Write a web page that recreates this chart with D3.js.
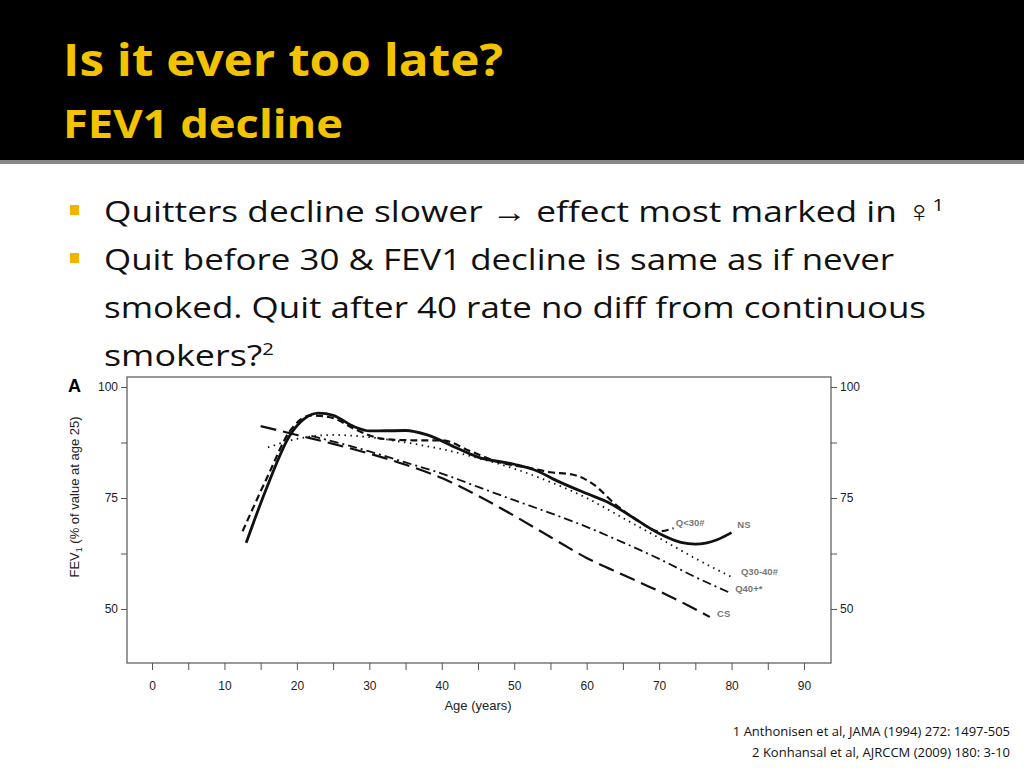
<!DOCTYPE html>
<html><head><meta charset="utf-8">
<script src="https://cdn.jsdelivr.net/npm/d3@7"></script>
<style>body{margin:0;background:#fff}</style>
</head><body>
<script>
// values (Age, FEV1 % of value at age 25)
const ns   = [[13,64.9],[16,78],[19,89],[21,92.8],[23,94.1],[25,93.6],[28,91],[30,90.1],[35,90.2],[38,89.2],[42,86.3],[45,84.2],[50,82.6],[53,81.2],[56,78.8],[60,76],[63,74],[66,71],[70,67],[73,65],[75,64.6],[78,65.6],[80,67.2]];
const q30  = [[12.5,67.5],[16,80],[19,90],[22,93.6],[25,93],[28,90.5],[32,88.3],[36,88],[40,88],[44,85.5],[48,83],[52,81.8],[55,80.8],[58,80.3],[61,78],[64,73.5],[67,70],[70,67.5],[72,68.2]];
const q3040= [[16,86.4],[20,88.3],[25,89.2],[30,88.7],[35,87.5],[40,86],[45,84],[50,81.6],[55,78.6],[60,75],[65,70.5],[70,66],[75,61.4],[80,57.2]];
const q40  = [[22,89],[26,87.3],[30,85.5],[35,83],[40,80.5],[45,77.5],[50,74.5],[55,71.6],[60,68.5],[65,65],[70,61.3],[75,57.2],[80,53.5]];
const cs   = [[15,91.2],[20,89.2],[25,87.2],[30,85],[35,82.5],[40,79.5],[45,75.5],[50,71],[55,66.2],[60,61.5],[65,57.7],[70,54],[74,50.8],[77,48.2]];
const series = [
  {name:"NS", data:ns, width:2.8, dash:null},
  {name:"Q<30#", data:q30, width:2.2, dash:"7,4"},
  {name:"Q30-40#", data:q3040, width:1.8, dash:"1.5,4.5"},
  {name:"Q40+*", data:q40, width:1.8, dash:"9,4,2,4"},
  {name:"CS", data:cs, width:2.2, dash:"16,7"}
];
const labels = [["Q<30#",72.3,68.7],["NS",80.8,68.2],["Q30-40#",81.3,57.6],["Q40+*",80.5,53.8],["CS",78,48.3]];
const xTicks = d3.range(0,95,5);
const yTicks = [50,62.5,75,87.5,100];
const yLabels = [50,75,100];
const bullets = [
  [{t:"Quitters decline slower "},{t:"\u2192",b:true},{t:" effect most marked in \u2640"},{t:"1",sup:true}],
  [{t:"Quit before 30 & FEV1 decline is same as if never"}],
  [{t:"smoked. Quit after 40 rate no diff from continuous"}],
  [{t:"smokers?"},{t:"2",sup:true}]
];
const notes = ["1 Anthonisen et al, JAMA (1994) 272: 1497-505","2 Konhansal et al, AJRCCM (2009) 180: 3-10"];

const svg = d3.select("body").append("svg").attr("width",1024).attr("height",768)
  .style("font-family","'Open Sans', sans-serif");

svg.append("rect").attr("width",1024).attr("height",160).attr("fill","#000");
svg.append("rect").attr("y",160).attr("width",1024).attr("height",4).attr("fill","#888");
svg.append("text").attr("x",63).attr("y",76).attr("fill","#f3c300").attr("font-size",44)
  .attr("font-weight","bold").attr("textLength",440).attr("lengthAdjust","spacingAndGlyphs").text("Is it ever too late?");
svg.append("text").attr("x",63).attr("y",138).attr("fill","#f3c300").attr("font-size",40)
  .attr("font-weight","bold").attr("textLength",280).attr("lengthAdjust","spacingAndGlyphs").text("FEV1 decline");

const bl = [[222,840],[270,790],[318,822],[366,170]];
bullets.forEach((parts,i) => {
  if (i < 2) svg.append("rect").attr("x",70).attr("y",bl[i][0]-17).attr("width",9).attr("height",10).attr("fill","#f0b400");
  const t = svg.append("text").attr("x",104).attr("y",bl[i][0]).attr("font-size",30).attr("fill","#111")
    .attr("textLength",bl[i][1]).attr("lengthAdjust","spacingAndGlyphs");
  parts.forEach(p => {
    const s = t.append("tspan").text(p.t);
    if (p.sup) s.attr("font-size",17).attr("dy",-11);
    if (p.b) s.attr("font-weight","bold");
  });
});

// chart
const x = d3.scaleLinear().domain([0,90]).range([152,804]);
const y = d3.scaleLinear().domain([50,100]).range([609,387]);
const f = svg.append("g").attr("font-family","'Liberation Sans', Arial, sans-serif");
f.append("rect").attr("x",127).attr("y",377).attr("width",704).attr("height",286)
  .attr("fill","none").attr("stroke","#555").attr("stroke-width",1.2);

const xa = f.append("g").attr("transform","translate(0,663)")
  .call(d3.axisBottom(x).tickValues(xTicks).tickSize(7).tickFormat(d => d % 10 === 0 ? d : ""));
const ya = f.append("g").attr("transform","translate(127,0)")
  .call(d3.axisLeft(y).tickValues(yTicks).tickSize(6).tickFormat(d => yLabels.includes(d) ? d : ""));
const yr = f.append("g").attr("transform","translate(831,0)")
  .call(d3.axisRight(y).tickValues(yTicks).tickSize(6).tickFormat(d => yLabels.includes(d) ? d : ""));
[xa,ya,yr].forEach(a => {
  a.select(".domain").remove();
  a.selectAll("line").attr("stroke","#555");
  a.selectAll("text").attr("font-size",12).attr("fill","#222");
});
xa.selectAll("text").attr("dy","1.4em");

f.append("text").attr("x",478).attr("y",710).attr("text-anchor","middle").attr("font-size",13).attr("fill","#222").text("Age (years)");
f.append("text").attr("transform","translate(79,497) rotate(-90)").attr("text-anchor","middle")
  .attr("font-size",13).attr("fill","#222")
  .call(t => { t.append("tspan").text("FEV"); t.append("tspan").attr("font-size",9).attr("dy",3).text("1");
    t.append("tspan").attr("dy",-3).text(" (% of value at age 25)"); });
f.append("text").attr("x",68).attr("y",392).attr("font-size",18).attr("font-weight","bold").text("A");

const line = d3.line().x(d => x(d[0])).y(d => y(d[1])).curve(d3.curveMonotoneX);
f.selectAll("path.s").data(series).join("path").attr("class","s")
  .attr("d",d => line(d.data)).attr("fill","none").attr("stroke","#111")
  .attr("stroke-width",d => d.width).attr("stroke-dasharray",d => d.dash);

f.selectAll("text.lab").data(labels).join("text").attr("class","lab")
  .attr("x",d => x(d[1])).attr("y",d => y(d[2])).attr("font-size",9.5).attr("fill","#777").attr("font-weight","bold")
  .text(d => d[0]);

svg.selectAll("text.note").data(notes).join("text").attr("class","note")
  .attr("x",1010).attr("y",(d,i) => 736 + i*21).attr("text-anchor","end").attr("font-size",13).attr("fill","#111").text(d => d);
</script>
</body></html>
